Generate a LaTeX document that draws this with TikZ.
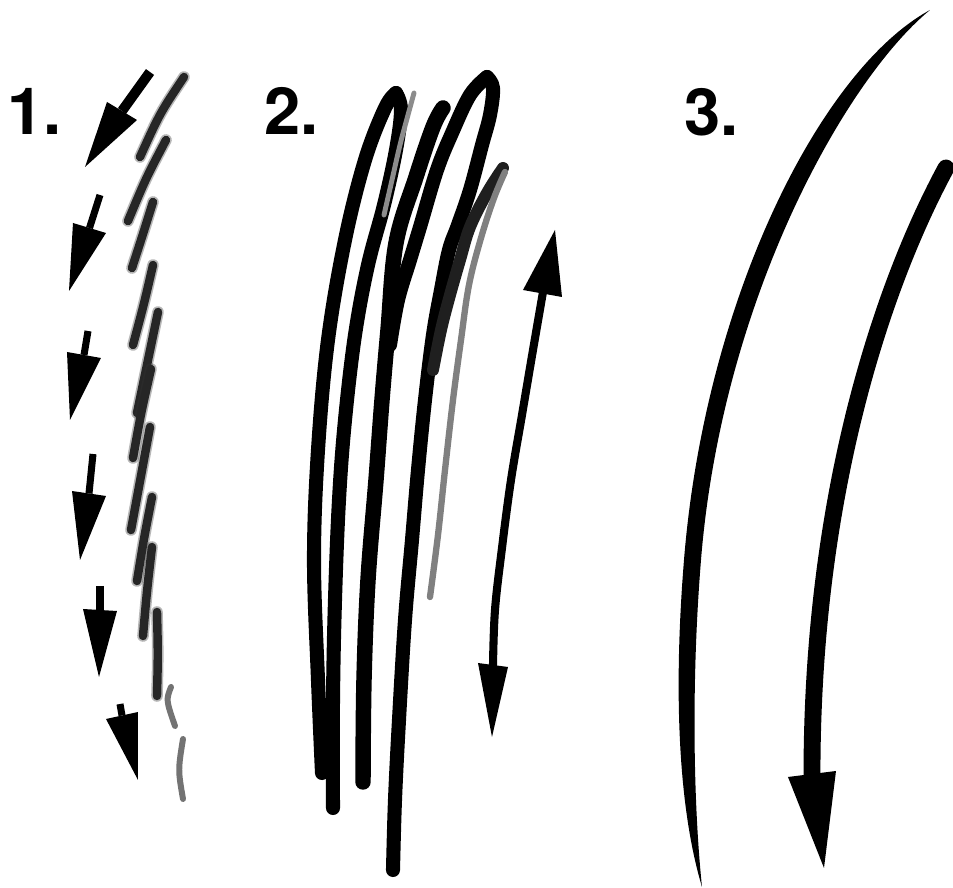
\documentclass[tikz,border=0pt]{standalone}
\usepackage{fontspec}
\setmainfont{TeX Gyre Heros}
\usetikzlibrary{calc}
\begin{document}
\begin{tikzpicture}[x=0.01cm,y=-0.01cm,
  lbl/.style={font=\fontsize{18.5pt}{18.5pt}\selectfont\bfseries, inner sep=0pt, anchor=base west},
  ink/.style={line cap=round, line join=round},
  scrib/.style={ink, line width=4.0pt, black},
  hair/.style={ink, line width=2.4pt, black!85},
  hairsoft/.style={ink, line width=3.3pt, black!80, opacity=0.35},
  hairlight/.style={ink, line width=1.7pt, black!55},
  shaft/.style={line width=2pt, black},
  headfill/.style={fill=black}
]
\useasboundingbox (0,0) rectangle (953,888);
\fill[white] (0,0) rectangle (953,888);

% labels
\node[lbl] (lab1) at (7,135) {1.};
\node[lbl] (lab2) at (264,135) {2.};
\node[lbl] (lab3) at (684,136) {3.};

% ---------- panel 1: arrows ----------
\coordinate (a1s) at (150,72);  \coordinate (a1l) at (107,102); \coordinate (a1r) at (137,120); \coordinate (a1t) at (85,167);
\coordinate (a2s) at (100,195); \coordinate (a2l) at (73,223);  \coordinate (a2r) at (106,233); \coordinate (a2t) at (69,291);
\coordinate (a3s) at (88,331);  \coordinate (a3l) at (67,352);  \coordinate (a3r) at (101,358); \coordinate (a3t) at (70,420);
\coordinate (a4s) at (93,454);  \coordinate (a4l) at (72,491);  \coordinate (a4r) at (106,496); \coordinate (a4t) at (80,560);
\coordinate (a5s) at (100,586); \coordinate (a5l) at (83,609);  \coordinate (a5r) at (117,611); \coordinate (a5t) at (99,677);
\coordinate (a6s) at (120,704); \coordinate (a6l) at (106,719); \coordinate (a6r) at (138,712); \coordinate (a6t) at (138,780);

\draw[shaft, line width=2.85pt] (a1s) -- ($(a1l)!0.5!(a1r)$);
\foreach \i in {2,...,6}{
  \draw[shaft] (a\i s) -- ($(a\i l)!0.5!(a\i r)$);
}
\foreach \i in {1,...,6}{
  \fill[headfill] (a\i t) -- (a\i l) -- (a\i r) -- cycle;
}

% ---------- panel 1: broken hair strokes ----------
\foreach \ax/\ay/\mx/\my/\bx/\by in {
  184/77/160/113/140/157,
  166/140/146/178/128/221,
  153/202/143/234/132/268,
  153/265/144/304/133/345,
  158/312/148/362/137/413,
  151/369/141/413/133/458,
  150/427/140/478/131/530,
  152/497/144/538/137/581,
  152/547/147/590/143/636,
  157/612/158/654/157/696}{
  \draw[hairsoft] (\ax,\ay) .. controls (\mx,\my) .. (\bx,\by);
  \draw[hair] (\ax,\ay) .. controls (\mx,\my) .. (\bx,\by);
}
\draw[hairlight] (171,687) .. controls (166,700) .. (175,726);
\draw[hairlight] (183,739) .. controls (178,770) .. (183,799);

% ---------- panel 2: scribble ----------
\draw[scrib] plot[smooth, tension=0.6] coordinates {(322,773) (318,680) (314,560) (318,450) (328,340) (345,240) (365,160) (385,108) (396,93)};
\draw[scrib] plot[smooth, tension=0.6] coordinates {(396,93) (401,110) (396,150) (384,205) (368,265) (355,335) (345,420) (339,500) (335,600) (333,700) (333,808)};
\draw[scrib, line width=4.4pt] plot[smooth, tension=0.6] coordinates {(363,782) (364,680) (368,580) (376,480) (382,400) (388,330) (396,243) (416,177) (433,127) (443,108)};
\draw[scrib] plot[smooth, tension=0.6] coordinates {(390,345) (398,300) (410,260) (420,227) (437,170) (452,133) (470,95) (487,77)};
\draw[scrib] plot[smooth, tension=0.6] coordinates {(487,77) (493,88) (490,115) (482,145) (470,190) (458,225) (449,250) (441,290) (433,335) (425,400) (418,470) (412,540) (405,620) (399,720) (395,800) (393,870)};
\draw[scrib, line width=3.4pt, black!88] plot[smooth, tension=0.6] coordinates {(503,168) (487,193) (470,227) (460,260) (450,295) (441,330) (433,370)};
\draw[ink, line width=1.8pt, black!50] plot[smooth, tension=0.6] coordinates {(505,172) (494,198) (481,238) (469,285) (461,340) (453,400) (445,470) (438,535) (430,597)};
\draw[ink, line width=1.4pt, black!45] plot[smooth, tension=0.6] coordinates {(414,93) (408,115) (400,145) (392,180) (384,215)};

% ---------- panel 2: double arrow ----------
\coordinate (dut) at (555,230); \coordinate (dul) at (523,290); \coordinate (dur) at (562,297);
\coordinate (ddt) at (492,737); \coordinate (ddl) at (478,663); \coordinate (ddr) at (508,667);
\draw[line width=2.3pt] plot[smooth, tension=0.6] coordinates {(543,292) (533,350) (522,415) (511,480) (502,548) (495,610) (493,666)};
\fill[headfill] (dut) -- (dul) -- (dur) -- cycle;
\fill[headfill] (ddt) -- (ddl) -- (ddr) -- cycle;

% ---------- panel 3 ----------
% tapered curve (filled between two edges)
\coordinate (ctop) at (930,10);
\coordinate (cbot) at (702,887);
\fill[black] (ctop) .. controls (820,70) and (705,300) .. (684,560)
   .. controls (674.5,677) and (676,800) .. (cbot)
   .. controls (693,800) and (691.5,677) .. (701,560)
   .. controls (722,300) and (845,80) .. (ctop) -- cycle;
% arrow curve
\coordinate (bs) at (946,168);
\coordinate (be) at (812,774);
\coordinate (bt) at (824,868); \coordinate (bl) at (788,777); \coordinate (br) at (836,771);
\draw[line width=4.8pt, line cap=round] (bs) .. controls (880,290) and (812,500) .. (be);
\fill[headfill] (bt) -- (bl) -- (br) -- cycle;
\end{tikzpicture}
\end{document}
